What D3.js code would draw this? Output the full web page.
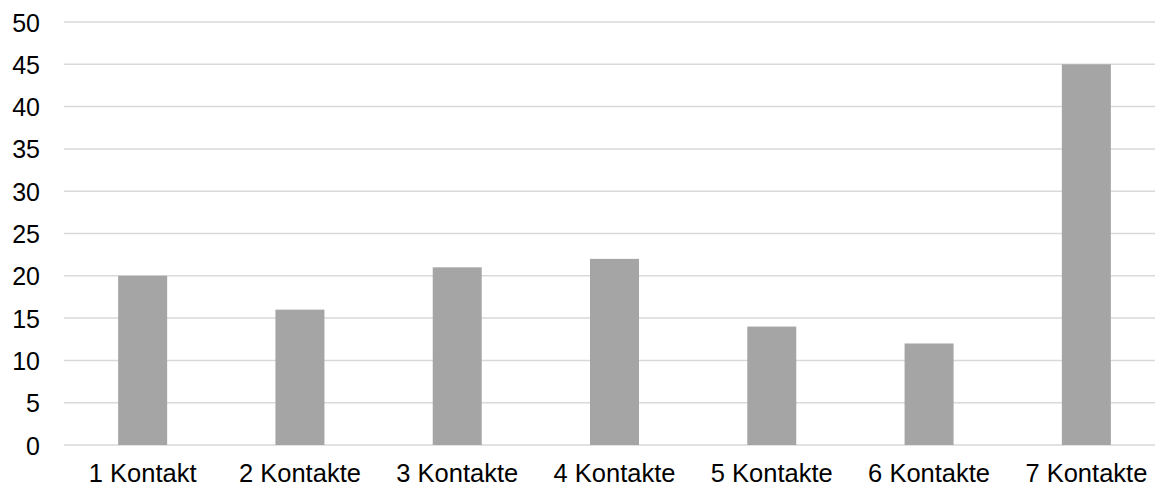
<!DOCTYPE html>
<html><head><meta charset="utf-8">
<script src="https://cdn.jsdelivr.net/npm/d3@7"></script>
<style>html,body{margin:0;padding:0;background:#fff;overflow:hidden;}svg{display:block;}</style>
</head><body>
<svg id="chart" width="1155" height="488"></svg>
<script>
const categories = ["1 Kontakt","2 Kontakte","3 Kontakte","4 Kontakte","5 Kontakte","6 Kontakte","7 Kontakte"];
const values = [20,16,21,22,14,12,45];
const yTicks = [0,5,10,15,20,25,30,35,40,45,50];

const svg = d3.select("#chart");
const font = "'Liberation Sans', Arial, sans-serif";
const x = d3.scaleBand().domain(categories).range([64,1165]).paddingInner(0.6885).paddingOuter(0.6885/2);
const y = d3.scaleLinear().domain([0,50]).range([445,22]);

const grid = svg.append("g");
grid.selectAll("line").data(yTicks).join("line")
  .attr("x1",64).attr("x2",1155)
  .attr("y1",d=>y(d)).attr("y2",d=>y(d))
  .attr("stroke","#d9d9d9").attr("stroke-width",1.5);

svg.append("g").selectAll("rect").data(values).join("rect")
  .attr("x",(d,i)=>x(categories[i]))
  .attr("width",x.bandwidth())
  .attr("y",d=>y(d))
  .attr("height",d=>y(0)-y(d))
  .attr("fill","#a5a5a5");

const yAxis = svg.append("g").attr("transform","translate(40,0)")
  .call(d3.axisLeft(y).tickValues(yTicks).tickSize(0).tickPadding(0));
yAxis.select(".domain").remove();
yAxis.selectAll("text").attr("font-family",font).attr("font-size",25).attr("fill","#000").attr("dy","0.36em");

const xAxis = svg.append("g").attr("transform","translate(0,445)")
  .call(d3.axisBottom(x).tickSize(0).tickPadding(0));
xAxis.select(".domain").remove();
xAxis.selectAll("text").attr("font-family",font).attr("font-size",25.5).attr("fill","#000").attr("dy",null).attr("y",36.5);
</script>
</body></html>
